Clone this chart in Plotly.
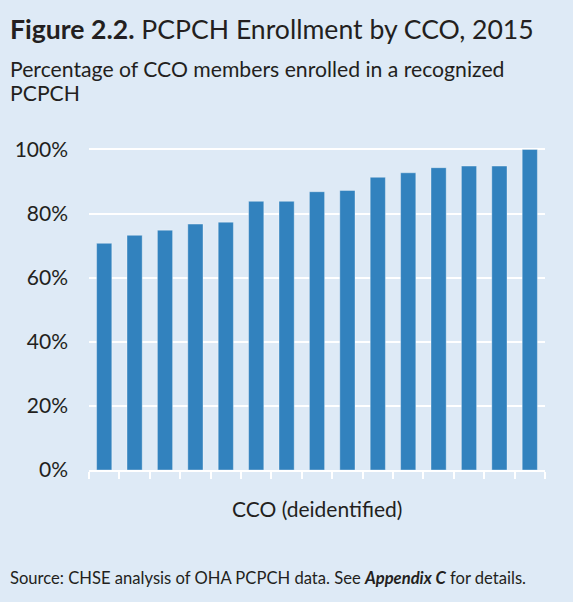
import plotly.graph_objects as go

# CCOs are deidentified; bars sorted ascending
ccos = [f"CCO {i}" for i in range(1, 16)]
enrollment_pct = [70.7, 73.2, 74.8, 76.7, 77.3, 83.8, 83.8, 86.8, 87.2,
                  91.3, 92.7, 94.3, 94.8, 94.8, 100.0]
y_ticks = [0, 20, 40, 60, 80, 100]
y_tick_labels = [f"{v}%" for v in y_ticks]

BG = "#DEEAF6"
BAR = "#3282BE"
TEXT = "#231F20"
FONT = "Lato, 'Open Sans', sans-serif"

# plot area in pixels (used to place text around it)
LEFT, RIGHT = 89, 545
TOP, BOTTOM = 143, 470
W = RIGHT - LEFT
H = BOTTOM - TOP


def px(pixel_x):
    return (pixel_x - LEFT) / W


def py(pixel_y):
    return (BOTTOM - pixel_y) / H


def note(text, x, y, size, xanchor="left", yanchor="middle"):
    return {
        "text": text, "xref": "paper", "yref": "paper",
        "x": px(x), "y": py(y), "xanchor": xanchor, "yanchor": yanchor,
        "showarrow": False, "align": "left", "font": {"size": size},
    }


fig = go.Figure()
fig.add_bar(
    x=ccos,
    y=enrollment_pct,
    marker_color=BAR,
    marker_line={"color": "rgba(255,255,255,0.35)", "width": 1},
)

fig.update_layout(
    width=573,
    height=602,
    paper_bgcolor=BG,
    plot_bgcolor=BG,
    font={"family": FONT, "color": TEXT},
    margin={"l": LEFT, "r": 573 - RIGHT, "t": TOP, "b": 602 - BOTTOM},
    bargap=0.5,
    showlegend=False,
    annotations=[
        note("<b>Figure 2.2.</b> PCPCH Enrollment by CCO, 2015", 8, 47, 26.6,
             yanchor="bottom"),
        note("Percentage of CCO members enrolled in a recognized", 8, 69, 21.2),
        note("PCPCH", 8, 93, 21.2),
        # zero-width non-joiner keeps "fi" from turning into a ligature
        note("CCO (deidenti\u200cfied)", (LEFT + RIGHT) / 2, 508, 21,
             xanchor="center"),
        note("Source: CHSE analysis of OHA PCPCH data. See "
             "<b><i>Appendix C</i></b> for details.", 8, 578, 16.6),
    ],
)

fig.update_xaxes(
    type="category",
    showticklabels=False,
    tickson="boundaries",
    ticks="outside",
    ticklen=7,
    tickcolor="white",
    tickwidth=2,
    showline=True,
    linecolor="white",
    linewidth=2,
    showgrid=False,
)
fig.update_yaxes(
    range=[0, 102],
    tickvals=y_ticks,
    ticktext=y_tick_labels,
    tickfont={"size": 21},
    ticklabelstandoff=20,
    showgrid=True,
    gridcolor="white",
    gridwidth=2,
    zeroline=False,
    showline=False,
)

fig.write_html(
    "out.html",
    config={"displayModeBar": False},
    post_script="document.body.style.margin = '0';",
)
